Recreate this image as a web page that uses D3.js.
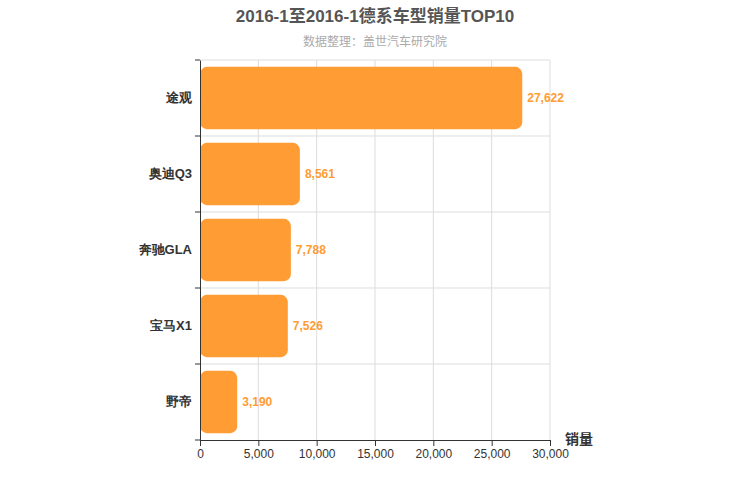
<!DOCTYPE html><html><head><meta charset="utf-8"><script src="https://cdn.jsdelivr.net/npm/d3@7"></script>
<style>body{margin:0;font-family:"Liberation Sans","Noto Sans CJK SC",sans-serif}</style></head><body><svg id="c" width="750" height="500"></svg>
<script>
const categories=["途观","奥迪Q3","奔驰GLA","宝马X1","野帝"];
const values=[27622,8561,7788,7526,3190];
const xTicks=[0,5000,10000,15000,20000,25000,30000];
const svg=d3.select("#c");
const L=200,R=550,T=60,B=440;
const x=d3.scaleLinear().domain([0,30000]).range([L,R]);
const y=d3.scaleBand().domain(categories).range([T,B]).paddingInner(0.18).paddingOuter(0.09);
const yb=d3.scaleBand().domain(categories).range([T,B]);
const g=svg.append("g");
g.selectAll(".vg").data(xTicks.slice(1)).join("line").attr("x1",d=>x(d)).attr("x2",d=>x(d)).attr("y1",T).attr("y2",B).attr("stroke","#ddd");
g.selectAll(".hg").data(categories).join("line").attr("x1",L).attr("x2",R).attr("y1",d=>yb(d)).attr("y2",d=>yb(d)).attr("stroke","#ddd");
g.selectAll("rect").data(values).join("rect").attr("x",x(0)).attr("y",(d,i)=>y(categories[i])).attr("width",d=>x(d)-x(0)).attr("height",y.bandwidth()).attr("rx",7).attr("fill","#ff9c33");
g.selectAll(".vl").data(values).join("text").attr("x",d=>x(d)+5).attr("y",(d,i)=>y(categories[i])+y.bandwidth()/2).attr("dy","0.35em").attr("fill","#ff9c33").attr("font-size",12).attr("font-weight","bold").text(d=>d3.format(",")(d));
const xa=svg.append("g").attr("transform",`translate(0,${B})`).call(d3.axisBottom(x).tickValues(xTicks).tickFormat(d3.format(",")).tickSizeOuter(0));
const ya=svg.append("g").attr("transform",`translate(${L},0)`).call(d3.axisLeft(yb).tickSize(0).tickPadding(8));
ya.append("g").selectAll("line").data(categories.concat(["_end"])).join("line").attr("x1",0).attr("x2",-5).attr("y1",d=>d==="_end"?B:yb(d)).attr("y2",d=>d==="_end"?B:yb(d)).attr("stroke","#333");
[xa,ya].forEach(a=>{a.selectAll("path").attr("stroke","#333");a.selectAll("text").attr("fill","#333").attr("font-size",12).attr("font-family","inherit");a.selectAll(".tick line").attr("stroke","#333");});
ya.selectAll("text").attr("font-size",13).attr("font-weight","bold");
svg.append("text").attr("x",375).attr("y",22).attr("text-anchor","middle").attr("font-size",17).attr("font-weight","bold").attr("fill","#555").text("2016-1至2016-1德系车型销量TOP10");
svg.append("text").attr("x",375).attr("y",46).attr("text-anchor","middle").attr("font-size",12).attr("fill","#aaa").text("数据整理：盖世汽车研究院");
svg.append("text").attr("x",565).attr("y",444).attr("font-size",14).attr("font-weight","bold").attr("fill","#333").text("销量");
</script></body></html>
